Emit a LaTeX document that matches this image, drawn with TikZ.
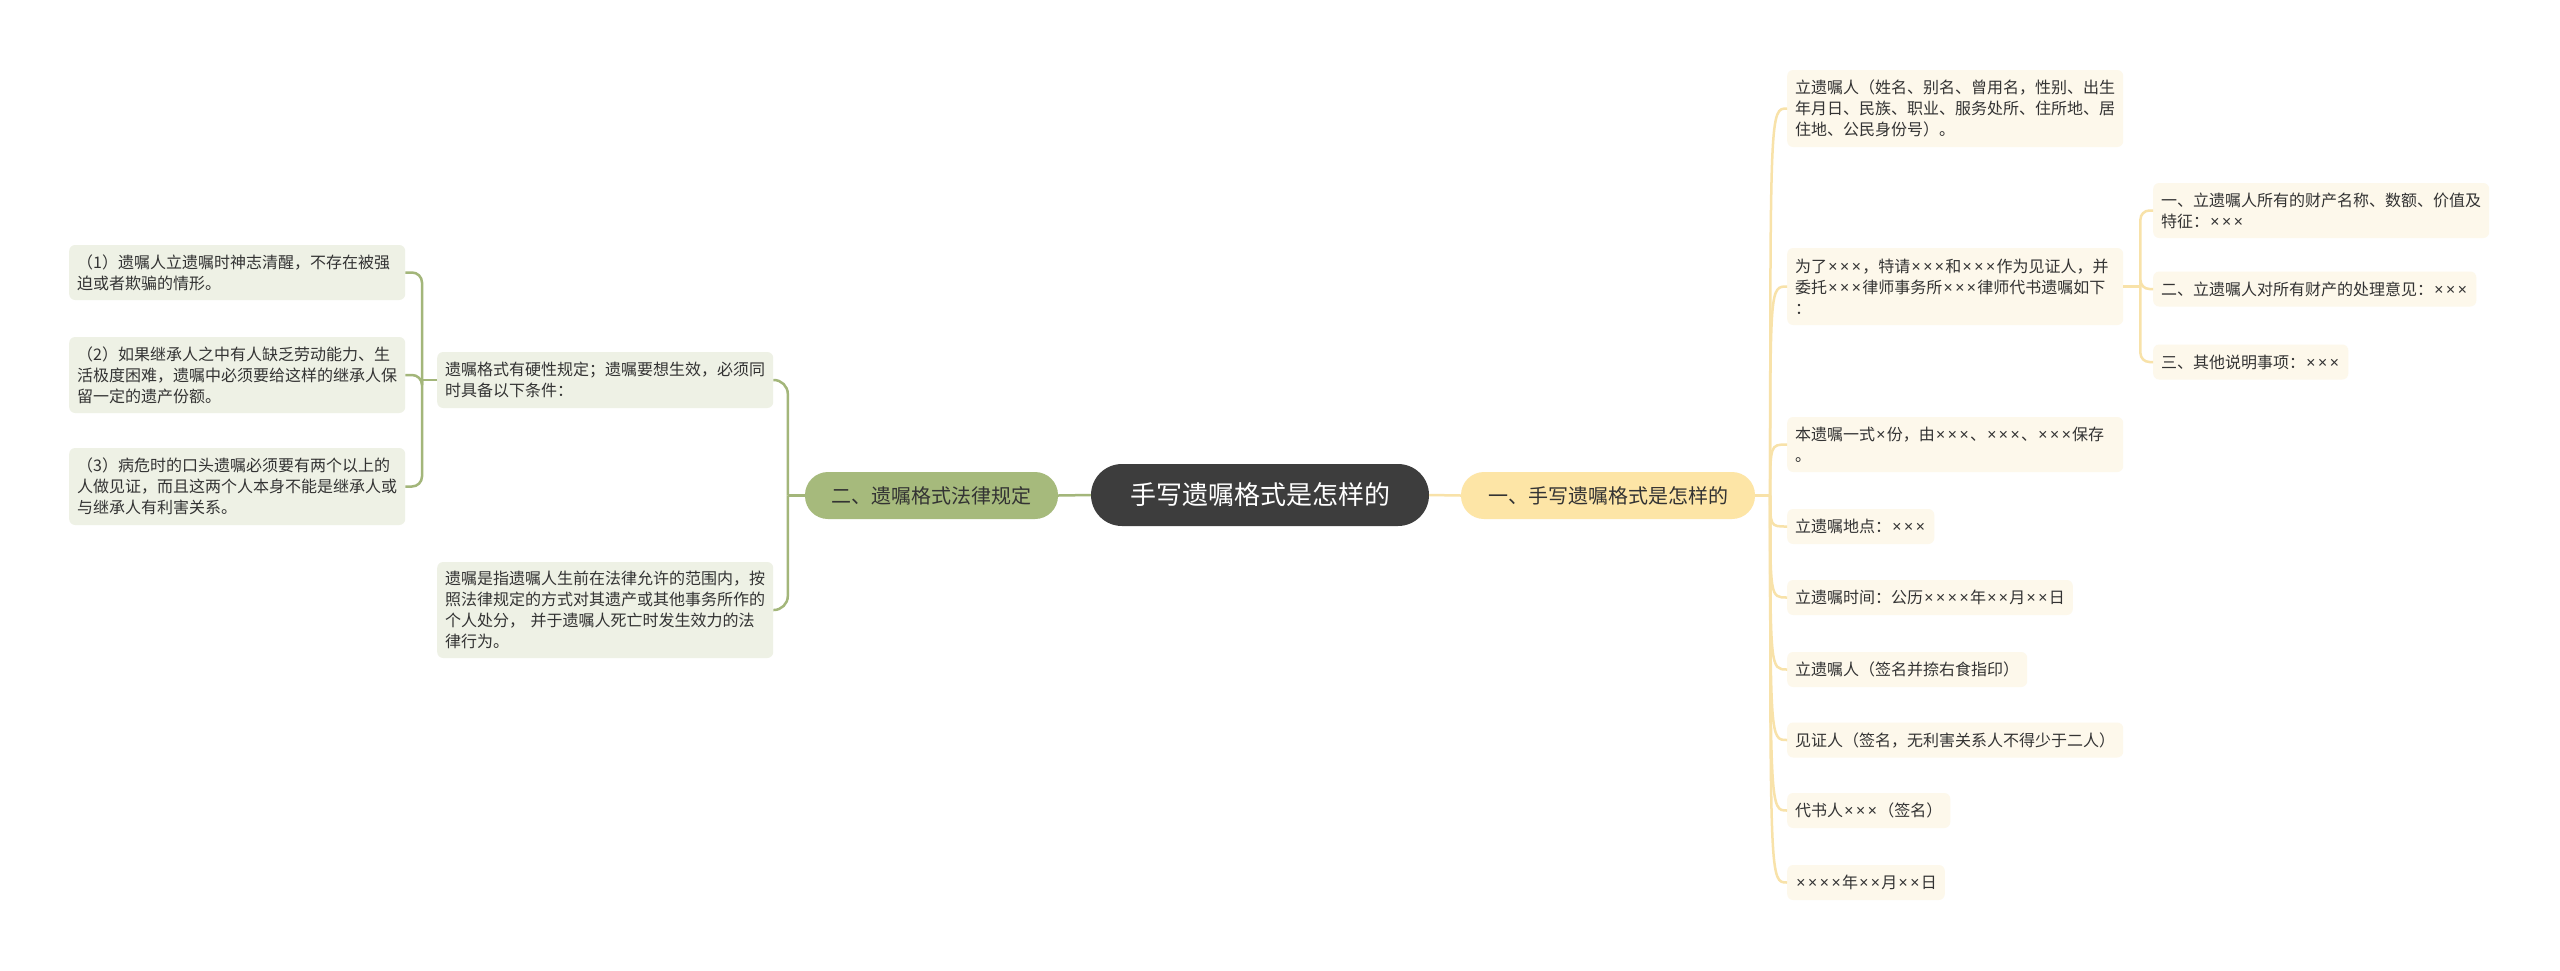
\documentclass[tikz,border=0pt]{standalone}
\usepackage{fontspec}
\newfontfamily\cjk{Noto Sans CJK SC}
\newfontfamily\latinx{Noto Sans}
\newcommand{\tms}{\makebox[11.7pt][c]{\latinx ×}}
\definecolor{centerfill}{HTML}{3D3D3D}
\definecolor{greenmain}{HTML}{A6BA7C}
\definecolor{yellowmain}{HTML}{FDE5A6}
\definecolor{leftleaf}{HTML}{EEF1E5}
\definecolor{rightleaf}{HTML}{FDF8EB}
\definecolor{gline}{HTML}{A3B67A}
\definecolor{yline}{HTML}{F8E2A9}
\definecolor{txt}{HTML}{333333}
\tikzset{
  leafbase/.style={anchor=west, align=left, inner xsep=8pt, inner ysep=0pt, rounded corners=6pt,
    font=\cjk\fontsize{16}{21}\selectfont, text=txt},
  rleaf/.style={leafbase, fill=rightleaf},
  lleaf/.style={leafbase, fill=leftleaf},
  wide/.style={text width=320pt},
  gconn/.style={draw=gline, line width=2.5pt},
  yconn/.style={draw=yline, line width=2.5pt},
}
\begin{document}
\begin{tikzpicture}[x=1pt,y=-1pt]
\fill[white] (0,0) rectangle (2560,970);
\useasboundingbox (0,0) rectangle (2560,970);

% main nodes
\node[fill=centerfill, text=white, rounded corners=31pt, minimum width=338pt, minimum height=62pt,
  inner sep=0pt, font=\cjk\fontsize{26}{30}\selectfont] (C) at (1260,495) {手写遗嘱格式是怎样的};
\node[fill=greenmain, text=txt, rounded corners=23pt, minimum width=253pt, minimum height=47pt,
  inner sep=0pt, font=\cjk\fontsize{20}{24}\selectfont] (G) at (931.5,495.5) {二、遗嘱格式法律规定};
\node[fill=yellowmain, text=txt, rounded corners=23pt, minimum width=294pt, minimum height=47pt,
  inner sep=0pt, font=\cjk\fontsize{20}{24}\selectfont] (Y) at (1608,495.5) {一、手写遗嘱格式是怎样的};

% right leaves
\node[rleaf, wide, minimum height=77pt] (R1) at (1787,108.5) {立遗嘱人（姓名、别名、曾用名，性别、出生\\年月日、民族、职业、服务处所、住所地、居\\住地、公民身份号）。};
\node[rleaf, wide, minimum height=77pt] (R2) at (1787,286.5) {为了\tms{}\tms{}\tms{}，特请\tms{}\tms{}\tms{}和\tms{}\tms{}\tms{}作为见证人，并\\委托\tms{}\tms{}\tms{}律师事务所\tms{}\tms{}\tms{}律师代书遗嘱如下\\：};
\node[rleaf, wide, minimum height=55pt] (S1) at (2153,210.5) {一、立遗嘱人所有的财产名称、数额、价值及\\特征：\tms{}\tms{}\tms{}};
\node[rleaf, minimum height=35pt] (S2) at (2153,289) {二、立遗嘱人对所有财产的处理意见：\tms{}\tms{}\tms{}};
\node[rleaf, minimum height=35pt] (S3) at (2153,362) {三、其他说明事项：\tms{}\tms{}\tms{}};
\node[rleaf, wide, minimum height=55pt] (R4) at (1787,444.5) {本遗嘱一式\tms{}份，由\tms{}\tms{}\tms{}、\tms{}\tms{}\tms{}、\tms{}\tms{}\tms{}保存\\。};
\node[rleaf, minimum height=35pt] (R5) at (1787,526.5) {立遗嘱地点：\tms{}\tms{}\tms{}};
\node[rleaf, minimum height=35pt] (R6) at (1787,597.5) {立遗嘱时间：公历\tms{}\tms{}\tms{}\tms{}年\tms{}\tms{}月\tms{}\tms{}日};
\node[rleaf, minimum height=35pt] (R7) at (1787,669.5) {立遗嘱人（签名并捺右食指印）};
\node[rleaf, minimum height=35pt] (R8) at (1787,740) {见证人（签名，无利害关系人不得少于二人）};
\node[rleaf, minimum height=35pt] (R9) at (1787,810.5) {代书人\tms{}\tms{}\tms{}（签名）};
\node[rleaf, minimum height=35pt] (R10) at (1787,882.5) {\tms{}\tms{}\tms{}\tms{}年\tms{}\tms{}月\tms{}\tms{}日};

% left leaves
\node[lleaf, wide, minimum height=55pt] (L1) at (69,272.5) {（1）遗嘱人立遗嘱时神志清醒，不存在被强\\迫或者欺骗的情形。};
\node[lleaf, wide, minimum height=76pt] (L2) at (69,375) {（2）如果继承人之中有人缺乏劳动能力、生\\活极度困难，遗嘱中必须要给这样的继承人保\\留一定的遗产份额。};
\node[lleaf, wide, minimum height=77pt] (L3) at (69,486.5) {（3）病危时的口头遗嘱必须要有两个以上的\\人做见证，而且这两个人本身不能是继承人或\\与继承人有利害关系。};
\node[lleaf, wide, minimum height=56pt] (M1) at (437,380) {遗嘱格式有硬性规定；遗嘱要想生效，必须同\\时具备以下条件：};
\node[lleaf, wide, minimum height=96pt] (M2) at (437,610) {遗嘱是指遗嘱人生前在法律允许的范围内，按\\照法律规定的方式对其遗产或其他事务所作的\\个人处分， 并于遗嘱人死亡时发生效力的法\\律行为。};

% central connectors
\draw[gconn] (C.west) -- (G.east);
\draw[yconn] (C.east) -- (Y.west);

% right side connectors
\draw[yconn] (Y.east) -- ++(15,0) coordinate (rj);
\foreach \n in {R1,R2,R4,R5,R6,R7,R8,R9,R10}{
  \draw[yconn] (rj) .. controls (rj |- \n.west) .. (\n.west);
}
\draw[yconn] (R2.east) -- ++(17,0) coordinate (sj);
\foreach \n in {S1,S2,S3}{
  \draw[yconn, rounded corners=9pt] (sj) |- (\n.west);
}

% left side connectors
\draw[gconn] (G.west) -- ++(-17,0) coordinate (gj);
\foreach \n in {M1,M2}{
  \draw[gconn, rounded corners=14pt] (gj) |- (\n.east);
}
\draw[gconn] (M1.west) -- ++(-15,0) coordinate (mj);
\foreach \n in {L1,L2,L3}{
  \draw[gconn, rounded corners=10pt] (mj) |- (\n.east);
}
\end{tikzpicture}
\end{document}
